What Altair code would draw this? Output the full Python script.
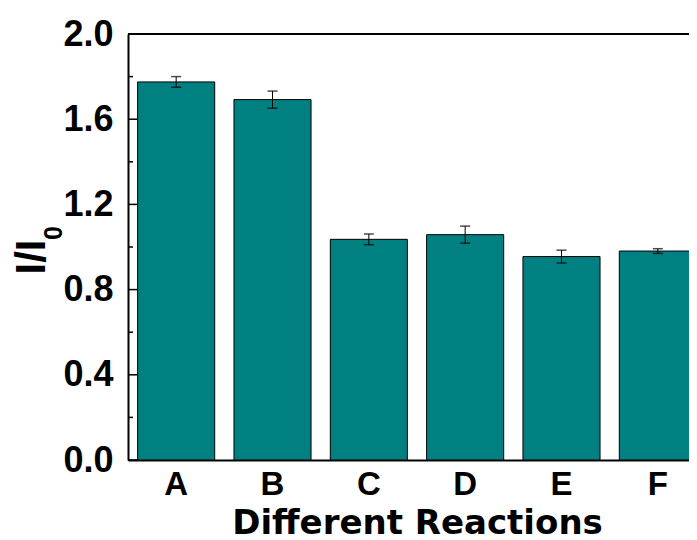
import altair as alt
import pandas as pd

categories = ["A", "B", "C", "D", "E", "F"]
values = [1.775, 1.692, 1.036, 1.058, 0.955, 0.981]
errors = [0.025, 0.040, 0.025, 0.040, 0.030, 0.011]
major_ticks = [0.0, 0.4, 0.8, 1.2, 1.6, 2.0]
minor_ticks = [0.2, 0.6, 1.0, 1.4, 1.8]
top_line = [2.0]
x_title = "Different Reactions"
y_title_main = ["I/I"]
y_title_sub = ["0"]

PLOT_W = 561
PLOT_H = 426

df = pd.DataFrame({"cat": categories, "val": values, "err": errors})
df["lo"] = df["val"] - df["err"]
df["hi"] = df["val"] + df["err"]

xscale = alt.Scale(domain=categories, range=[0, 578], paddingInner=0.2, paddingOuter=0.1)
yscale = alt.Scale(domain=[0, 2.0], nice=False, zero=True)

xaxis = alt.Axis(
    title=x_title, labelFont="Liberation Sans", labelFontSize=33, labelFontWeight="bold",
    labelColor="black", labelPadding=8, labelAngle=0, ticks=False, tickSize=0,
    domain=True, domainColor="black", domainWidth=2,
    grid=False, titleFont="DejaVu Sans", titleFontSize=34, titleFontWeight="bold",
    titleColor="black", titlePadding=5,
)
yaxis = alt.Axis(
    title=None, values=major_ticks, format=".1f", labelFont="Liberation Sans",
    labelFontSize=36, labelFontWeight="bold", labelColor="black", labelPadding=15,
    ticks=False, tickSize=0, domain=True, domainColor="black", domainWidth=2, grid=False,
)

base = alt.Chart(df)
x_enc = alt.X("cat:N", scale=xscale, axis=xaxis, sort=categories)

bars = base.mark_bar(color="#008080", stroke="black", strokeWidth=1, clip=True).encode(
    x=x_enc, y=alt.Y("val:Q", scale=yscale, axis=yaxis)
)
err_rule = base.mark_rule(color="black", strokeWidth=1, clip=True).encode(
    x=x_enc, y=alt.Y("lo:Q", scale=yscale, axis=yaxis), y2="hi:Q"
)
cap_lo = base.mark_tick(color="black", thickness=1.5, size=10, clip=True).encode(
    x=x_enc, y=alt.Y("lo:Q", scale=yscale, axis=yaxis)
)
cap_hi = base.mark_tick(color="black", thickness=1.5, size=10, clip=True).encode(
    x=x_enc, y=alt.Y("hi:Q", scale=yscale, axis=yaxis)
)

major = alt.Chart(pd.DataFrame({"v": major_ticks})).mark_rule(color="black", strokeWidth=1.5).encode(
    y=alt.Y("v:Q", scale=yscale, axis=yaxis), x=alt.value(0), x2=alt.value(9)
)
minor = alt.Chart(pd.DataFrame({"v": minor_ticks})).mark_rule(color="black", strokeWidth=1.5).encode(
    y=alt.Y("v:Q", scale=yscale, axis=yaxis), x=alt.value(0), x2=alt.value(5)
)
top = alt.Chart(pd.DataFrame({"v": top_line})).mark_rule(color="black", strokeWidth=2).encode(
    y=alt.Y("v:Q", scale=yscale, axis=yaxis), x=alt.value(0), x2=alt.value(PLOT_W)
)

ytitle = alt.Chart(pd.DataFrame({"t": y_title_main})).mark_text(
    angle=270, font="Liberation Sans", fontSize=42, fontWeight="bold", color="black",
    align="center", baseline="alphabetic",
).encode(text="t:N", x=alt.value(-83), y=alt.value(223))
ysub = alt.Chart(pd.DataFrame({"t": y_title_sub})).mark_text(
    angle=270, font="Liberation Sans", fontSize=25, fontWeight="bold", color="black",
    align="center", baseline="alphabetic",
).encode(text="t:N", x=alt.value(-66), y=alt.value(199))

chart = alt.layer(bars, err_rule, cap_lo, cap_hi, major, minor, top, ytitle, ysub).properties(
    width=PLOT_W, height=PLOT_H,
    autosize=alt.AutoSizeParams(type="none"),
    padding={"left": 120, "top": 26, "right": 0, "bottom": 80},
    background="white",
).configure_view(stroke=None)

chart.save("out.html", embed_options={"renderer": "svg", "actions": False})
